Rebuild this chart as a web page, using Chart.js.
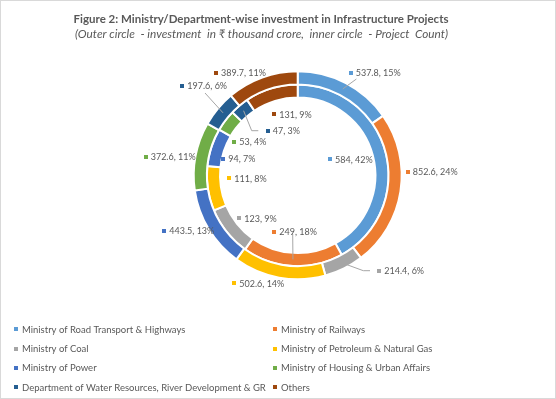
<!DOCTYPE html>
<html><head><meta charset="utf-8">
<script src="https://cdn.jsdelivr.net/npm/chart.js@4"></script>
<style>
html,body{margin:0;padding:0;background:#fff;}
#wrap{position:relative;width:556px;height:399px;}
#c{position:absolute;left:0;top:0;}
#frame{position:absolute;left:0;top:0;width:554px;height:397px;border:1px solid #D9D9D9;pointer-events:none;}
</style></head><body>
<div id="wrap"><canvas id="c" width="556" height="399"></canvas><div id="frame"></div></div>
<script>
// ---- data ----
const titleText = 'Figure 2: Ministry/Department-wise investment in Infrastructure Projects';
const subtitleText = '(Outer circle  - investment  in \u20B9 thousand crore,  inner circle  - Project  Count)';
const categories = [
  'Ministry of Road Transport & Highways',
  'Ministry of Railways',
  'Ministry of Coal',
  'Ministry of Petroleum & Natural Gas',
  'Ministry of Power',
  'Ministry of Housing & Urban Affairs',
  'Department of Water Resources, River Development & GR',
  'Others'
];
const investment = [537.8, 852.6, 214.4, 502.6, 443.5, 372.6, 197.6, 389.7];
const projectCount = [584, 249, 123, 111, 94, 53, 47, 131];

// ---- style / layout ----
const colors = ['#5B9BD5','#ED7D31','#A5A5A5','#FFC000','#4472C4','#70AD47','#255E91','#9E480E'];
const textColor = '#595959';
// label square-centre offsets from the doughnut centre
const outerLabelOffsets = [[53,-102.6],[110,-3.6],[81.6,95.4],[-63.4,108],[-133.4,55.4],[-152,-18.6],[-115.4,-89.3],[-81.7,-102.6]];
const innerLabelOffsets = [[32.3,-16],[-23.4,56.4],[-58.4,43],[-68.4,3],[-74.4,-16.3],[-63.4,-33.6],[-30,-44.6],[-23.4,-61]];
// leader lines: [endDx, endDy, elbowDx|null, elbowDy|null] relative to label square
const outerLeaders = [[5.7,6.3,null,null],null,[-9.3,0,-16,0],null,null,null,[22.7,7,null,null],null];
const innerLeaders = [null,[18.4,2.3,null,null],null,null,null,null,[-9.4,0,-16,0],null];

function pct(arr){const s=arr.reduce((a,b)=>a+b,0);return arr.map(v=>Math.round(v/s*100));}

const labelPlugin = {
  id:'customLabels',
  afterDatasetsDraw(chart){
    const ctx = chart.ctx;
    const sets = [
      {meta: chart.getDatasetMeta(0), vals: investment, offs: outerLabelOffsets, leaders: outerLeaders},
      {meta: chart.getDatasetMeta(1), vals: projectCount, offs: innerLabelOffsets, leaders: innerLeaders}
    ];
    ctx.save();
    sets.forEach(s=>{
      const p = pct(s.vals);
      s.meta.data.forEach((arc,i)=>{
        const cx = arc.x, cy = arc.y;
        const sx = cx + s.offs[i][0], sy = cy + s.offs[i][1];
        const L = s.leaders[i];
        if (L){
          const tp = arc.tooltipPosition();
          ctx.strokeStyle = '#A6A6A6'; ctx.lineWidth = 1;
          ctx.beginPath(); ctx.moveTo(tp.x, tp.y);
          if (L[2] !== null) ctx.lineTo(sx+L[2], sy+L[3]);
          ctx.lineTo(sx+L[0], sy+L[1]); ctx.stroke();
        }
        ctx.fillStyle = colors[i];
        ctx.fillRect(Math.round(sx-2), Math.round(sy-2), 4, 4);
        ctx.fillStyle = textColor;
        ctx.font = '9px Lato';
        ctx.textBaseline = 'middle'; ctx.textAlign = 'left';
        ctx.fillText(String(s.vals[i]) + ', ' + p[i] + '%', sx+5, sy+0.5);
      });
    });
    ctx.restore();
  },
  afterDraw(chart){
    const ctx = chart.ctx;
    ctx.save();
    ctx.fillStyle = textColor;
    ctx.textAlign = 'center'; ctx.textBaseline = 'alphabetic';
    ctx.font = 'bold 11.5px Lato';
    ctx.fillText(titleText, 261, 23, 382);
    ctx.font = 'italic 11.8px Lato';
    ctx.fillText(subtitleText, 261.5, 38, 373);
    // legend
    ctx.textAlign = 'left'; ctx.textBaseline = 'middle';
    ctx.font = '9.5px Lato';
    const rowY = [329.3, 348.7, 367.9, 387.3];
    const colX = [14, 273];
    categories.forEach((c,i)=>{
      const r = Math.floor(i/2), col = i%2;
      ctx.fillStyle = colors[i];
      ctx.fillRect(colX[col], Math.round(rowY[r]-2), 4, 4);
      ctx.fillStyle = textColor;
      ctx.fillText(c, colX[col]+8, rowY[r]+0.5);
    });
    ctx.restore();
  }
};

new Chart(document.getElementById('c'), {
  type: 'doughnut',
  data: {
    labels: categories,
    datasets: [
      {label:'Investment', data: investment, backgroundColor: colors, borderColor:'#fff', borderWidth:2},
      {label:'Project Count', data: projectCount, backgroundColor: colors, borderColor:'#fff', borderWidth:2}
    ]
  },
  options: {
    responsive:false, animation:false, devicePixelRatio:1,
    cutout:'74.7%',
    layout:{padding:{left:192.7, right:153.3, top:70.3, bottom:118.7}},
    plugins:{legend:{display:false}, title:{display:false}, tooltip:{enabled:false}}
  },
  plugins:[labelPlugin]
});
</script>
</body></html>
